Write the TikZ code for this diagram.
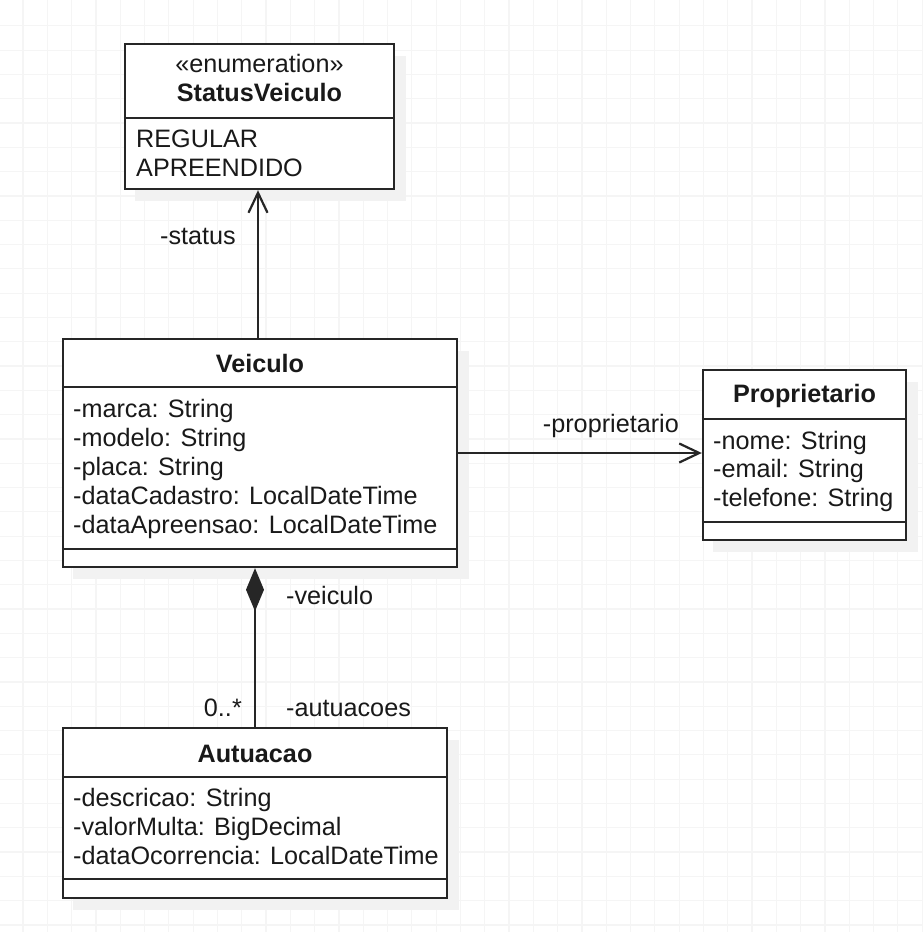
\documentclass[tikz,border=0pt]{standalone}
\usepackage{fontspec}
\setmainfont{Liberation Sans}
\usetikzlibrary{arrows.meta}
\begin{document}
\begin{tikzpicture}[x=1pt,y=-1pt,
  gridline/.style={draw=black!4,line width=1.2pt},
  shadowbox/.style={fill=black!5,draw=none},
  classbox/.style={draw=black!85,line width=2.4pt,fill=white,rectangle,inner sep=0pt},
  sepline/.style={draw=black!85,line width=2.2pt},
  txt/.style={inner sep=0pt,anchor=base west,font=\fontsize{25.2}{29}\selectfont,text=black!90},
  ttl/.style={inner sep=0pt,anchor=base,font=\fontsize{25.2}{29}\selectfont\bfseries,text=black!90},
  stereo/.style={inner sep=0pt,anchor=base,font=\fontsize{25.2}{29}\selectfont,text=black!90},
  lblw/.style={inner sep=0pt,anchor=base west,font=\fontsize{25.2}{29}\selectfont,text=black!90},
  lble/.style={inner sep=0pt,anchor=base east,font=\fontsize{25.2}{29}\selectfont,text=black!90},
  conn/.style={draw=black!85,line width=2.2pt},
  openarrow/.style={-{Straight Barb[length=20pt,width=19pt,line width=2.2pt]}},
]
\useasboundingbox (0,0) rectangle (922,932);
\fill[white] (0,0) rectangle (922,932);
% grid
\foreach \i in {0,...,38} {\draw[gridline] ({23+24.3*\i},0) -- ({23+24.3*\i},932);}
\foreach \j in {0,...,38} {\draw[gridline] (0,{25.8+24.3*\j}) -- (922,{25.8+24.3*\j});}
% shadows
\fill[shadowbox] (135,56) rectangle (406,201);
\fill[shadowbox] (73,351) rectangle (469,579);
\fill[shadowbox] (713,382) rectangle (918,552);
\fill[shadowbox] (73,740) rectangle (459,910);
% class boxes
\node[classbox,minimum width=269pt,minimum height=145pt] (status) at (259.5,116.5) {};
\node[classbox,minimum width=394pt,minimum height=228pt] (veiculo) at (260,453) {};
\node[classbox,minimum width=203pt,minimum height=170pt] (prop) at (804.5,455) {};
\node[classbox,minimum width=384pt,minimum height=170pt] (autuacao) at (255,813) {};
% separators
\draw[sepline] (status.west |- 0,118) -- (status.east |- 0,118);
\draw[sepline] (veiculo.west |- 0,387) -- (veiculo.east |- 0,387);
\draw[sepline] (veiculo.west |- 0,549) -- (veiculo.east |- 0,549);
\draw[sepline] (prop.west |- 0,419) -- (prop.east |- 0,419);
\draw[sepline] (prop.west |- 0,522) -- (prop.east |- 0,522);
\draw[sepline] (autuacao.west |- 0,777) -- (autuacao.east |- 0,777);
\draw[sepline] (autuacao.west |- 0,879) -- (autuacao.east |- 0,879);
% StatusVeiculo texts
\node[stereo] (st1) at (259.5,72) {«enumeration»};
\node[ttl] (st2) at (259.5,101) {StatusVeiculo};
\node[txt] (st3) at (136,147) {REGULAR};
\node[txt] (st4) at (136,176) {APREENDIDO};
% Veiculo texts
\node[ttl] (v0) at (260,372) {Veiculo};
\node[txt] (v1) at (73,417) {-marca: String};
\node[txt] (v2) at (73,446) {-modelo: String};
\node[txt] (v3) at (73,475) {-placa: String};
\node[txt] (v4) at (73,504) {-dataCadastro: LocalDateTime};
\node[txt] (v5) at (73,533) {-dataApreensao: LocalDateTime};
% Proprietario texts
\node[ttl] (p0) at (804.5,402) {Proprietario};
\node[txt] (p1) at (713,449) {-nome: String};
\node[txt] (p2) at (713,477) {-email: String};
\node[txt] (p3) at (713,506) {-telefone: String};
% Autuacao texts
\node[ttl] (a0) at (255,762) {Autuacao};
\node[txt] (a1) at (73,806) {-descricao: String};
\node[txt] (a2) at (73,835) {-valorMulta: BigDecimal};
\node[txt] (a3) at (73,864) {-dataOcorrencia: LocalDateTime};
% connectors
\coordinate (vtop) at (258,339);
\draw[conn,openarrow] (veiculo.north -| vtop) -- (status.south -| vtop);
\draw[conn,openarrow] (veiculo.east) -- (veiculo.east -| prop.west);
\draw[conn,{Diamond[length=43pt,width=18pt]}-] (autuacao.north |- veiculo.south) -- (autuacao.north);
% labels
\node[lble] (lstatus) at (236,244) {-status};
\node[lble] (lprop) at (679,432) {-proprietario};
\node[lblw] (lveic) at (286,604) {-veiculo};
\node[lble] (lmult) at (242,716) {0..*};
\node[lblw] (laut) at (286,716) {-autuacoes};
\end{tikzpicture}
\end{document}
